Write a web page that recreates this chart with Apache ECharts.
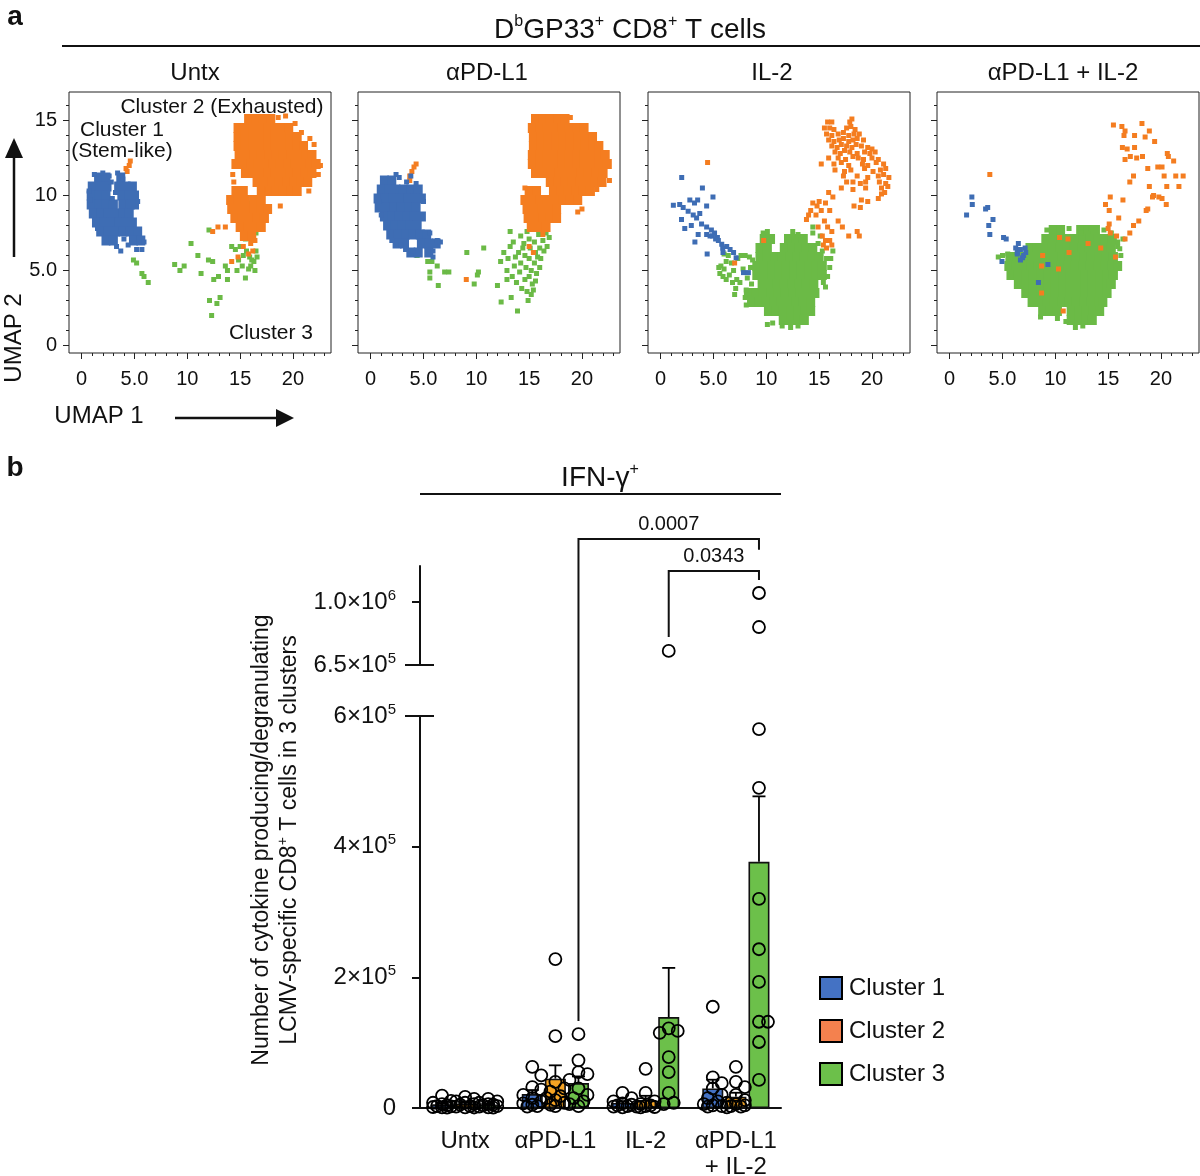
<!DOCTYPE html>
<html>
<head>
<meta charset="UTF-8">
<title>UMAP clusters and IFN-γ+ cells</title>
<script src="https://cdn.jsdelivr.net/npm/echarts@6/dist/echarts.min.js"></script>
<style>
  html, body { margin: 0; padding: 0; background: #fff; }
  #main { width: 1200px; height: 1176px; }
</style>
</head>
<body>
<div id="main"></div>
<script>
// ---------------- panel a : UMAP (UMAP1, UMAP2) ----------------
var panelTitles = ['Untx', 'αPD-L1', 'IL-2', 'αPD-L1 + IL-2'];
var umapXTicks = [0, 5, 10, 15, 20];
var umapXTickText = ['0', '5.0', '10', '15', '20'];
var umapYTicks = [0, 5, 10, 15];
var umapYTickText = ['0', '5.0', '10', '15'];

// dense parts as rows: [UMAP2, [UMAP1, ...]]
var untxBlueCore = [
  [11.2, [1.6, 2.3, 3.7]],
  [10.6, [1.0, 1.7, 2.4, 3.5, 4.2, 4.8]],
  [10.0, [0.9, 1.6, 2.3, 3.8, 4.5, 5.0]],
  [9.4, [0.9, 1.6, 2.3, 3.0, 3.9, 4.6, 5.0]],
  [8.8, [1.1, 1.8, 2.5, 3.2, 3.9, 4.5]],
  [8.2, [1.4, 2.1, 2.8, 3.5, 4.2, 4.8]],
  [7.6, [1.8, 2.5, 3.2, 3.9, 4.6, 5.3]],
  [7.0, [2.3, 3.0, 4.9, 5.6]]
];
var untxBlue = [[3.4,11.5],[3.6,11.0],[2.8,10.9],[3.2,10.2],[2.9,9.8],[3.3,6.6],[3.7,6.3],[4.4,6.7],[5.2,6.4],[5.7,6.4],[5.9,6.9],[0.8,9.7],[1.2,11.4],[5.3,9.6],[0.7,10.3],[2.0,11.5],[2.6,11.3],[3.9,11.1],[4.0,7.1],[1.5,7.8]];
var untxOrangeCore = [
  [15.1, [15.8, 16.5, 17.2, 17.9]],
  [14.5, [14.8, 15.5, 16.2, 16.9, 17.6, 18.3, 19.0, 19.6]],
  [13.9, [14.8, 15.5, 16.2, 16.9, 17.6, 18.3, 19.0, 19.7, 20.4]],
  [13.3, [14.8, 15.5, 16.2, 16.9, 17.6, 18.3, 19.0, 19.7, 20.4, 21.0]],
  [12.7, [14.9, 15.6, 16.3, 17.0, 17.7, 18.4, 19.1, 19.8, 20.5, 21.2, 21.8]],
  [12.1, [14.6, 15.3, 16.0, 16.7, 17.4, 18.1, 18.8, 19.5, 20.2, 20.9, 21.6, 22.2]],
  [11.5, [15.5, 16.2, 16.9, 17.6, 18.3, 19.0, 19.7, 20.4, 21.1, 21.8]],
  [10.9, [16.6, 17.3, 18.0, 18.7, 19.4, 20.1, 20.8, 21.4]],
  [10.3, [14.6, 15.3, 17.0, 17.7, 18.4, 19.1, 19.8, 20.4]],
  [9.7, [14.1, 14.8, 15.5, 16.3, 17.0]],
  [9.1, [14.2, 14.9, 15.6, 16.3, 17.0, 17.6]],
  [8.5, [14.5, 15.2, 15.9, 16.6, 17.3]],
  [7.9, [15.0, 15.7, 16.4, 17.0]],
  [7.3, [15.4, 16.1]]
];
var untxOrange = [[4.3,11.6],[4.5,12.0],[4.2,11.8],[4.6,12.3],[12.4,7.6],[12.9,7.9],[13.6,7.9],[14.2,5.6],[14.8,5.9],[15.3,6.6],[16.0,6.8],[16.4,7.0],[18.8,9.3],[22.4,11.4],[22.6,12.0],[19.3,15.3],[18.6,15.2],[21.5,10.3],[17.6,10.4],[16.2,6.3],[15.8,6.1],[22.0,13.4],[21.6,13.8],[20.8,14.2],[20.2,14.8],[14.4,10.9],[14.3,11.4]];
var untxGreen = [[4.9,5.7],[5.2,5.5],[5.7,4.8],[5.9,4.6],[6.3,4.2],[8.8,5.4],[9.3,5.0],[9.7,5.3],[10.35,6.8],[11.0,6.0],[12.0,5.7],[12.4,5.6],[11.3,4.8],[12.05,7.7],[12.1,3.0],[12.8,2.8],[13.1,3.2],[12.3,2.0],[12.5,4.4],[12.95,4.6],[13.6,5.3],[13.8,5.0],[13.8,4.4],[14.2,6.6],[14.55,6.4],[15.0,6.6],[14.7,5.0],[14.85,5.7],[15.3,6.0],[15.6,6.3],[15.9,5.9],[16.1,5.7],[15.5,4.5],[15.8,5.1],[16.0,5.3],[16.3,5.6],[16.5,6.3],[16.1,7.1],[16.5,7.5],[16.0,9.5],[15.5,7.1],[16.4,5.0],[16.6,5.9],[15.2,5.3]];

var pdBlueCore = [
  [11.0, [1.3, 2.0]],
  [10.4, [1.0, 1.7, 2.4, 3.1, 3.8, 4.5]],
  [9.8, [0.7, 1.4, 2.1, 2.8, 3.5, 4.2, 4.8]],
  [9.2, [0.8, 1.5, 2.2, 2.9, 3.6, 4.3]],
  [8.6, [1.3, 2.0, 2.7, 3.4, 4.1, 4.8]],
  [8.0, [1.6, 2.3, 3.0, 3.7, 4.4]],
  [7.4, [1.9, 2.6, 3.3, 4.0, 4.7, 5.3]],
  [6.8, [2.5, 3.2, 4.8, 5.5, 6.2]],
  [6.2, [3.8, 4.5, 5.5]]
];
var pdBlue = [[5.9,5.9],[6.6,6.9],[4.0,6.3],[3.3,6.4],[1.0,8.7],[0.8,9.6],[2.7,11.2],[5.0,9.6],[5.6,7.5],[6.3,7.0],[2.4,11.4],[3.4,10.9],[4.3,10.8],[2.0,7.0],[2.9,6.7],[5.9,6.3],[3.8,11.3]];
var pdOrangeCore = [
  [15.1, [15.6, 16.3, 17.0, 17.7, 18.4]],
  [14.5, [15.3, 16.0, 16.7, 17.4, 18.1, 18.8, 19.5, 20.2]],
  [13.9, [15.4, 16.1, 16.8, 17.5, 18.2, 18.9, 19.6, 20.3, 21.0]],
  [13.3, [15.4, 16.1, 16.8, 17.5, 18.2, 18.9, 19.6, 20.3, 21.0, 21.6]],
  [12.7, [15.3, 16.0, 16.7, 17.4, 18.1, 18.8, 19.5, 20.2, 20.9, 21.6, 22.2]],
  [12.1, [15.3, 16.0, 16.7, 17.4, 18.1, 18.8, 19.5, 20.2, 20.9, 21.6, 22.4]],
  [11.5, [15.6, 16.4, 17.1, 17.8, 18.5, 19.2, 19.9, 20.6, 21.3, 22.0]],
  [10.9, [17.0, 17.7, 18.4, 19.1, 19.8, 20.5, 21.2, 21.9]],
  [10.3, [15.0, 15.7, 17.3, 18.0, 18.7, 19.4, 20.1, 20.8]],
  [9.7, [14.6, 15.3, 16.0, 16.7, 17.4, 18.2, 18.9, 19.6]],
  [9.1, [14.8, 15.5, 16.2, 16.9, 17.6]],
  [8.5, [14.9, 15.6, 16.3, 17.0, 17.6]],
  [7.9, [15.2, 15.9, 16.6]]
];
var pdOrange = [[3.7,11.3],[3.9,11.6],[4.1,11.9],[4.3,12.1],[3.7,11.0],[14.6,10.5],[15.4,6.2],[15.0,6.6],[9.05,4.4],[20.0,9.1],[19.6,8.9],[22.6,11.0],[16.3,7.4],[21.4,10.4],[18.9,15.2]];
var pdGreen = [[4.4,6.0],[5.4,5.6],[5.8,5.6],[6.3,5.3],[5.6,4.9],[5.6,4.5],[6.4,4.0],[7.0,4.9],[7.4,4.9],[9.1,6.2],[10.1,4.7],[10.2,4.9],[9.8,4.1],[10.7,6.5],[12.0,4.0],[12.35,2.9],[13.3,3.2],[13.9,2.3],[12.3,5.6],[12.6,6.2],[12.9,5.0],[13.2,6.6],[13.5,6.9],[13.0,5.8],[13.6,5.3],[13.4,4.6],[13.8,4.2],[14.0,6.2],[14.2,5.5],[14.1,4.9],[14.3,3.8],[14.5,6.8],[14.6,6.0],[14.7,5.2],[14.6,4.4],[14.8,3.6],[15.0,7.1],[15.1,6.5],[15.0,5.8],[15.2,5.0],[15.0,4.6],[15.3,4.1],[15.2,3.4],[15.5,6.9],[15.6,6.2],[15.5,5.5],[15.7,4.8],[15.6,4.3],[15.9,7.4],[16.0,6.5],[16.1,5.8],[16.0,5.2],[16.3,7.0],[16.4,6.3],[16.6,7.5],[16.9,7.2],[16.7,6.6],[14.2,7.3],[13.2,7.6],[14.8,7.6],[16.3,8.5],[14.9,3.0],[15.4,3.7],[14.4,6.5],[13.7,5.9],[15.8,5.9],[12.9,4.4]];

var il2Blue = [[1.99,11.2],[3.95,10.5],[4.95,9.9],[1.2,9.35],[1.8,9.4],[2.13,9.2],[2.76,9.7],[3.2,9.5],[3.5,9.7],[4.35,9.3],[2.6,8.95],[3.08,8.7],[3.7,8.8],[1.97,8.4],[2.28,7.8],[2.9,8.0],[3.87,8.1],[3.4,8.5],[4.35,7.9],[4.8,7.7],[3.55,7.4],[3.24,6.9],[4.35,7.4],[4.67,7.3],[5.1,7.5],[5.37,7.2],[5.46,7.0],[5.78,6.75],[5.87,6.5],[6.25,6.6],[5.9,6.2],[4.4,6.1],[6.57,6.4],[7.14,5.85],[6.9,6.2],[7.84,4.86],[8.3,4.86],[4.9,7.3],[5.2,7.1]];
var il2Orange = [[15.8,14.9],[16.2,14.9],[17.9,14.9],[18.1,15.1],[15.5,14.5],[16.0,14.5],[16.4,14.4],[17.6,14.5],[18.0,14.6],[18.4,14.4],[15.7,14.1],[16.2,14.0],[16.8,14.1],[17.3,14.2],[17.8,14.0],[18.3,14.1],[18.8,14.1],[15.9,13.7],[16.4,13.6],[16.9,13.7],[17.3,13.8],[17.8,13.6],[18.2,13.7],[18.6,13.8],[19.2,13.7],[16.2,13.3],[16.7,13.2],[17.1,13.4],[17.6,13.3],[18.1,13.2],[18.5,13.4],[19.0,13.3],[19.6,13.2],[20.0,13.1],[16.5,12.9],[17.0,12.8],[17.4,13.0],[17.9,12.9],[18.6,12.8],[19.3,12.9],[19.8,12.8],[20.3,12.9],[15.9,12.5],[16.8,12.5],[17.5,12.4],[18.2,12.6],[18.7,12.5],[19.2,12.4],[20.0,12.5],[20.6,12.4],[15.2,12.1],[16.4,12.1],[17.1,12.2],[17.8,12.0],[19.1,12.1],[19.6,12.0],[20.4,12.2],[21.1,12.1],[16.5,11.7],[17.4,11.6],[18.0,11.7],[19.3,11.8],[20.1,11.6],[20.8,11.7],[21.3,11.8],[17.3,11.3],[18.6,11.3],[19.6,11.2],[20.6,11.3],[21.1,11.4],[21.6,11.2],[17.6,10.9],[18.2,10.9],[18.9,10.8],[19.4,10.9],[20.7,10.9],[21.3,10.8],[17.1,10.5],[18.2,10.4],[19.4,10.5],[20.9,10.5],[21.5,10.6],[20.9,10.1],[21.2,10.2],[19.0,9.7],[19.6,9.6],[20.6,9.8],[18.3,9.3],[18.9,9.2],[14.8,9.3],[15.0,9.6],[15.6,9.5],[14.4,9.5],[14.2,9.0],[15.2,9.0],[16.0,9.0],[14.0,8.7],[14.7,8.7],[15.5,8.3],[16.8,8.3],[15.8,7.9],[17.2,7.9],[14.9,7.9],[16.2,7.6],[18.6,7.6],[15.3,7.3],[17.8,7.3],[18.8,7.3],[15.6,7.0],[16.0,7.0],[15.4,6.7],[16.2,6.7],[15.7,6.5],[13.8,8.4],[16.3,9.9],[15.9,10.2],[4.44,12.2],[9.75,7.0],[7.0,5.5]];
var il2GreenCore = [
  [7.1, [9.8, 10.4, 12.1, 12.8, 13.5]],
  [6.5, [9.4, 10.1, 11.7, 12.4, 13.1, 13.8, 14.4]],
  [5.9, [9.4, 10.1, 10.8, 11.5, 12.2, 12.9, 13.6, 14.3, 15.0]],
  [5.3, [9.1, 9.8, 10.5, 11.2, 11.9, 12.6, 13.3, 14.0, 14.7, 15.3]],
  [4.7, [9.1, 9.8, 10.5, 11.2, 11.9, 12.6, 13.3, 14.0, 14.7, 15.3]],
  [4.1, [9.6, 10.3, 11.0, 11.7, 12.4, 13.1, 13.8, 14.5]],
  [3.5, [8.3, 9.0, 9.7, 10.4, 11.1, 11.8, 12.5, 13.2, 13.9, 14.6]],
  [2.9, [8.6, 9.3, 10.0, 10.7, 11.4, 12.1, 12.8, 13.5, 14.2]],
  [2.3, [10.2, 10.9, 11.6, 12.3, 13.0, 13.7, 14.2]],
  [1.7, [11.6, 12.3, 13.0, 13.6]]
];
var il2Green = [[5.6,4.8],[5.7,5.3],[5.9,4.6],[6.2,4.4],[6.5,4.7],[6.2,5.6],[6.0,5.1],[6.4,6.0],[6.7,5.5],[6.9,5.0],[7.3,5.8],[7.6,6.0],[8.0,6.0],[8.4,5.9],[8.7,5.7],[7.2,4.4],[7.5,4.2],[7.1,3.8],[7.0,3.4],[7.8,5.1],[8.2,4.5],[8.6,4.1],[8.5,5.2],[6.0,6.1],[5.5,5.2],[8.1,3.7],[6.8,4.2],[14.9,6.8],[15.1,7.3],[14.4,7.5],[15.3,6.3],[15.7,5.8],[16.1,5.8],[16.3,6.3],[16.0,5.2],[15.8,4.6],[14.4,7.9],[15.6,7.0],[11.5,1.3],[12.3,1.2],[13.0,1.3],[10.6,1.5],[10.1,1.4],[9.7,7.5],[10.1,7.6],[12.5,7.6],[13.0,7.4],[8.1,2.7],[8.0,3.2],[15.6,3.9],[15.4,4.2]];

var comboGreenCore = [
  [7.7, [9.8, 10.5, 12.4, 13.1, 13.8]],
  [7.1, [9.1, 9.8, 10.5, 11.2, 11.9, 12.6, 13.3, 14.0, 14.7, 15.4]],
  [6.5, [7.6, 8.3, 9.0, 9.7, 10.4, 11.1, 11.8, 12.5, 13.2, 13.9, 14.6, 15.3]],
  [5.9, [5.7, 6.4, 7.1, 7.8, 8.5, 9.2, 9.9, 10.6, 11.3, 12.0, 12.7, 13.4, 14.1, 14.8, 15.5]],
  [5.3, [5.6, 6.3, 7.0, 7.7, 8.4, 9.1, 9.8, 10.5, 11.2, 11.9, 12.6, 13.3, 14.0, 14.7, 15.4, 15.9]],
  [4.7, [5.8, 6.5, 7.2, 7.9, 8.6, 9.3, 10.0, 10.7, 11.4, 12.1, 12.8, 13.5, 14.2, 14.9, 15.5]],
  [4.1, [6.5, 7.2, 7.9, 8.6, 9.3, 10.0, 10.7, 11.4, 12.1, 12.8, 13.5, 14.2, 14.9, 15.3]],
  [3.5, [7.2, 7.9, 8.6, 9.3, 10.0, 10.7, 11.4, 12.1, 12.8, 13.5, 14.2, 14.9]],
  [2.9, [7.8, 8.5, 9.2, 9.9, 10.6, 11.3, 12.0, 12.7, 13.4, 14.1, 14.5]],
  [2.3, [8.8, 9.5, 10.2, 11.5, 12.2, 12.9, 13.6, 14.2]],
  [1.7, [11.5, 12.2, 12.9, 13.5]]
];
var comboGreen = [[4.6,5.9],[5.0,6.0],[5.5,6.1],[12.4,7.5],[13.4,7.8],[15.3,7.5],[15.9,6.6],[16.1,6.45],[16.4,7.1],[16.2,6.0],[15.9,6.9],[11.9,1.2],[12.6,1.3],[11.0,1.6],[10.2,1.8],[8.6,1.9],[9.2,7.7],[11.3,7.8],[14.6,7.7]];
var comboBlue = [[2.1,9.9],[2.14,9.4],[1.6,8.7],[3.4,9.1],[3.6,9.2],[4.1,8.4],[3.7,8.0],[3.8,7.4],[5.1,7.2],[5.35,7.1],[4.95,5.6],[6.25,6.5],[6.4,6.2],[6.7,6.4],[7.14,6.5],[6.9,5.85],[6.4,6.1],[6.7,5.7],[7.2,6.2],[9.3,5.4],[8.4,4.2],[6.5,6.8],[7.0,6.0]];
var comboOrange = [[3.8,11.4],[15.5,14.7],[16.3,14.6],[16.6,14.3],[16.5,14.0],[17.5,14.0],[18.2,14.8],[18.5,13.9],[18.9,14.3],[19.4,13.6],[16.35,13.2],[16.8,13.1],[17.5,13.2],[16.6,12.4],[17.1,12.6],[17.7,12.5],[18.25,12.6],[20.6,12.8],[20.7,12.6],[21.2,12.3],[18.75,11.8],[19.7,11.9],[20.1,11.9],[20.3,11.3],[21.4,11.3],[22.1,11.3],[21.7,10.6],[20.55,10.6],[18.9,10.6],[17.4,11.3],[17.05,10.9],[19.3,10.0],[19.8,9.9],[20.1,9.8],[19.2,9.9],[18.75,9.1],[18.6,9.0],[20.5,9.4],[16.4,9.7],[15.2,9.9],[14.75,9.4],[15.1,9.0],[16.0,8.5],[15.1,8.1],[15.0,7.8],[15.2,7.5],[17.4,8.0],[17.9,8.3],[17.05,7.5],[15.8,7.3],[16.6,7.1],[14.3,6.5],[15.7,5.9],[10.4,7.2],[11.2,7.1],[13.1,6.8],[11.3,6.2],[8.8,6.0],[8.7,5.3],[10.3,5.1],[8.7,3.5],[10.75,2.3]];

// ---------------- panel b : IFN-γ+ cells per mouse ----------------
var groupLabels = ['Untx', 'αPD-L1', 'IL-2', 'αPD-L1\n+ IL-2'];
var clusterNames = ['Cluster 1', 'Cluster 2', 'Cluster 3'];
var cluster1Counts = [
  [19000, 11000, 8000, 6000, 4500, 3000, 2500, 1500, 1000, 500],
  [63000, 50000, 32000, 28000, 20000, 15000, 10000, 7000, 5000, 3000, 2000],
  [23000, 15000, 10000, 7000, 5000, 4000, 3000, 2000, 1000],
  [155000, 47000, 38000, 30000, 20000, 15000, 10000, 6000, 4000, 3000, 2000]
];
var cluster2Counts = [
  [17000, 14000, 10000, 8000, 6000, 5000, 3000, 2000, 1000, 800],
  [228000, 110000, 40000, 30000, 25000, 18000, 15000, 12000, 8000, 5000, 3000],
  [60000, 23000, 10000, 6000, 4000, 3000, 2000, 1500, 1000],
  [63000, 40000, 32000, 20000, 12000, 8000, 6000, 4000, 3000, 2000, 1000]
];
var cluster3Counts = [
  [14000, 10000, 8000, 6000, 5000, 4000, 3000, 2000, 1000, 600],
  [113000, 73000, 55000, 52000, 43000, 30000, 20000, 15000, 10000, 6000, 3000],
  [728000, 122000, 118000, 115000, 78000, 55000, 23000, 8000, 6000],
  [1050000, 861000, 580000, 490000, 320000, 243000, 193000, 132000, 132000, 101000, 43000]
];
var lowTicks = [0, 200000, 400000, 600000];
var lowTickText = ['0', '2×10^5', '4×10^5', '6×10^5'];
var highTicks = [650000, 1000000];
var highTickText = ['6.5×10^5', '1.0×10^6'];
// significance brackets: [group, cluster] ends, bracket level and leg ends (cells)
var sigTests = [
  { label: '0.0007', from: [1, 2], to: [3, 2], level: 1350000, fromEnd: 133000, toEnd: 1290000 },
  { label: '0.0343', from: [2, 2], to: [3, 2], level: 1172000, fromEnd: 806000, toEnd: 1122000 }
];

var FONT = "'Liberation Sans', Arial, sans-serif";
var INK = '#111';
var umapColors = { blue: '#3e6db4', orange: '#f47d20', green: '#6bba46' };
var barColors = ['#4472c4', '#f5a323', '#6cc04a'];
var legendColors = ['#4472c4', '#f4814e', '#6cc04a'];

function rowsToPoints(rows) {
  var out = [];
  rows.forEach(function (r) { r[1].forEach(function (x) { out.push([x, r[0]]); }); });
  return out;
}
function supText(s, base, sup) {
  var p = s.split('^');
  return p.length > 1 ? '{' + base + '|' + p[0] + '}{' + sup + '|' + p[1] + '}' : '{' + base + '|' + s + '}';
}

var chart = echarts.init(document.getElementById('main'));

var umapPanels = [
  { green: untxGreen, orangeCore: untxOrangeCore, orange: untxOrange, blueCore: untxBlueCore, blue: untxBlue },
  { green: pdGreen, orangeCore: pdOrangeCore, orange: pdOrange, blueCore: pdBlueCore, blue: pdBlue },
  { greenCore: il2GreenCore, green: il2Green, orange: il2Orange, blue: il2Blue },
  { greenCore: comboGreenCore, green: comboGreen, orange: comboOrange, blue: comboBlue }
];
var PANEL_LEFT = [69, 358, 648, 937];
var umapMinorX = [], umapMinorY = [];
for (var t = 0; t <= 23; t++) umapMinorX.push(t);
for (var t2 = 0; t2 <= 16; t2++) umapMinorY.push(t2);

var grids = [], xAxes = [], yAxes = [], series = [];

PANEL_LEFT.forEach(function (left, i) {
  grids.push({ left: left, top: 92, width: 262, height: 261, show: true, outerBoundsMode: 'none',
    borderColor: '#222', borderWidth: 1, backgroundColor: 'transparent' });
  var common = { type: 'value', gridIndex: i, splitLine: { show: false },
    axisLine: { show: false, onZero: false } };
  xAxes.push(Object.assign({}, common, { min: -1.2, max: 23.6, position: 'bottom',
    axisTick: { show: true, customValues: umapXTicks, length: 6, lineStyle: { color: '#222' } },
    axisLabel: { show: true, customValues: umapXTicks, margin: 16, fontSize: 20, color: INK, fontFamily: FONT,
      formatter: function (v) { return umapXTickText[umapXTicks.indexOf(v)] || ''; } } }));
  xAxes.push(Object.assign({}, common, { min: -1.2, max: 23.6, position: 'bottom',
    axisTick: { show: true, customValues: umapMinorX, length: 3, lineStyle: { color: '#222' } },
    axisLabel: { show: false } }));
  yAxes.push(Object.assign({}, common, { min: -0.5, max: 16.9, position: 'left',
    axisTick: { show: true, customValues: umapYTicks, length: 6, lineStyle: { color: '#222' } },
    axisLabel: { show: i === 0, customValues: umapYTicks, margin: 12, fontSize: 20, color: INK, fontFamily: FONT,
      formatter: function (v) { return umapYTickText[umapYTicks.indexOf(v)] || ''; } } }));
  yAxes.push(Object.assign({}, common, { min: -0.5, max: 16.9, position: 'left',
    axisTick: { show: true, customValues: umapMinorY, length: 3, lineStyle: { color: '#222' } },
    axisLabel: { show: false } }));

  var p = umapPanels[i];
  var layers = [
    ['greenCore', 'green', true], ['green', 'green', false],
    ['orangeCore', 'orange', true], ['orange', 'orange', false],
    ['blueCore', 'blue', true], ['blue', 'blue', false]
  ];
  layers.forEach(function (l) {
    var src = p[l[0]];
    if (!src) return;
    series.push({
      type: 'scatter', xAxisIndex: 2 * i, yAxisIndex: 2 * i, silent: true,
      symbol: 'rect', symbolSize: l[2] ? [9, 10] : 5,
      itemStyle: { color: umapColors[l[1]], opacity: 1 },
      data: l[2] ? rowsToPoints(src) : src
    });
  });
});

// ---- bar chart grids (broken y axis) ----
var BAR_LEFT = 420, BAR_W = 361;
var BAND = BAR_W / groupLabels.length;
var BAR_WIDTH = 21;
var SHIFT = (BAR_WIDTH * 1.1) / BAND;      // cluster offset in category units
var LOW_PX = 392 / 600000;

grids.push({ left: BAR_LEFT, top: 716, width: BAR_W, height: 392, outerBoundsMode: 'none' });   // 4 lower
grids.push({ left: BAR_LEFT, top: 566, width: BAR_W, height: 99, outerBoundsMode: 'none' });    // 5 upper

var tickRich = {
  b: { fontSize: 24, fontFamily: FONT, color: INK, lineHeight: 28 },
  s: { fontSize: 15, fontFamily: FONT, color: INK, lineHeight: 16, verticalAlign: 'top' }
};

xAxes.push({ type: 'category', gridIndex: 4, data: groupLabels, position: 'bottom',
  axisLine: { onZero: false, lineStyle: { color: INK, width: 2 } },
  axisTick: { alignWithLabel: true, interval: 0, length: 7, lineStyle: { color: INK, width: 2 } },
  axisLabel: { interval: 0, fontSize: 24, lineHeight: 26, margin: 20, color: INK, fontFamily: FONT },
  splitLine: { show: false } });                                              // 8
xAxes.push({ type: 'value', gridIndex: 4, min: -0.5, max: 3.5, show: false }); // 9
xAxes.push({ type: 'value', gridIndex: 5, min: -0.5, max: 3.5, show: false }); // 10

yAxes.push({ type: 'value', gridIndex: 4, min: 0, max: 600000, position: 'left',
  axisLine: { show: true, onZero: false, lineStyle: { color: INK, width: 2 } },
  axisTick: { show: true, customValues: [0, 200000, 400000], length: 8, lineStyle: { color: INK, width: 2 } },
  axisLabel: { customValues: lowTicks, margin: 24, rich: tickRich,
    formatter: function (v) { var k = lowTicks.indexOf(v); return k < 0 ? '' : supText(lowTickText[k], 'b', 's'); } },
  splitLine: { show: false } });                                              // 8
yAxes.push({ type: 'value', gridIndex: 5, min: 650000, max: 1200000, position: 'left',
  axisLine: { show: true, onZero: false, lineStyle: { color: INK, width: 2 } },
  axisTick: { show: true, customValues: [1000000], length: 8, lineStyle: { color: INK, width: 2 } },
  axisLabel: { customValues: highTicks, margin: 24, rich: tickRich,
    formatter: function (v) { var k = highTicks.indexOf(v); return k < 0 ? '' : supText(highTickText[k], 'b', 's'); } },
  splitLine: { show: false } });                                              // 9

var clusterCounts = [cluster1Counts, cluster2Counts, cluster3Counts];
function mean(a) { return a.reduce(function (s, v) { return s + v; }, 0) / a.length; }
function sem(a) {
  var m = mean(a);
  var ss = a.reduce(function (s, v) { return s + (v - m) * (v - m); }, 0);
  return Math.sqrt(ss / (a.length - 1)) / Math.sqrt(a.length);
}
// spread circles sideways where they would overlap (pixel units)
function swarm(vals) {
  var placed = [], res = new Array(vals.length);
  var order = vals.map(function (v, i) { return i; }).sort(function (a, b) { return vals[b] - vals[a]; });
  var cands = [0, 5, -5, 9, -9];
  order.forEach(function (i) {
    var y = vals[i] * LOW_PX, best = 0, bestD = -1;
    for (var k = 0; k < cands.length; k++) {
      var d = Infinity;
      placed.forEach(function (q) { var dd = Math.hypot(q[0] - cands[k], q[1] - y); if (dd < d) d = dd; });
      if (d >= 10) { best = cands[k]; break; }
      if (d > bestD) { bestD = d; best = cands[k]; }
    }
    placed.push([best, y]);
    res[i] = best;
  });
  return res;
}

var errData = [], highPoints = [];
clusterCounts.forEach(function (groups, c) {
  var means = groups.map(mean);
  series.push({ name: clusterNames[c], type: 'bar', xAxisIndex: 8, yAxisIndex: 8,
    barWidth: BAR_WIDTH, barGap: '10%', z: 2, silent: true,
    itemStyle: { color: barColors[c], borderColor: INK, borderWidth: 1.6 },
    data: means });
  var lowPts = [];
  groups.forEach(function (vals, g) {
    var xc = g + (c - 1) * SHIFT;
    errData.push([xc, means[g], means[g] + sem(vals)]);
    var dx = swarm(vals);
    vals.forEach(function (v, k) {
      var pt = [xc + dx[k] / BAND, v];
      if (v >= 650000) highPoints.push(pt); else lowPts.push(pt);
    });
  });
  series.push({ type: 'scatter', xAxisIndex: 9, yAxisIndex: 8, z: 4, silent: true,
    symbol: 'circle', symbolSize: 12,
    itemStyle: { color: 'rgba(255,255,255,0)', borderColor: '#000', borderWidth: 1.8, opacity: 1 },
    data: lowPts });
});
series.push({ type: 'scatter', xAxisIndex: 10, yAxisIndex: 9, z: 4, silent: true,
  symbol: 'circle', symbolSize: 12,
  itemStyle: { color: 'rgba(255,255,255,0)', borderColor: '#000', borderWidth: 1.8, opacity: 1 },
  data: highPoints });
series.push({ type: 'custom', xAxisIndex: 9, yAxisIndex: 8, z: 3, silent: true,
  renderItem: function (params, api) {
    var lo = api.coord([api.value(0), api.value(1)]);
    var hi = api.coord([api.value(0), api.value(2)]);
    var st = { stroke: '#000', lineWidth: 1.8 };
    return { type: 'group', children: [
      { type: 'line', shape: { x1: lo[0], y1: lo[1], x2: hi[0], y2: hi[1] }, style: st },
      { type: 'line', shape: { x1: hi[0] - 6.5, y1: hi[1], x2: hi[0] + 6.5, y2: hi[1] }, style: st }
    ] };
  },
  data: errData });

chart.setOption({
  animation: false,
  textStyle: { fontFamily: FONT },
  grid: grids,
  xAxis: xAxes,
  yAxis: yAxes,
  legend: {
    orient: 'vertical', left: 819, top: 976, itemWidth: 22, itemHeight: 22, itemGap: 19,
    icon: 'rect', selectedMode: false, padding: 0,
    textStyle: { fontSize: 24, color: INK, fontFamily: FONT, padding: [0, 0, 0, 2] },
    data: clusterNames.map(function (n, c) {
      return { name: n, itemStyle: { color: legendColors[c], borderColor: '#000', borderWidth: 2 } };
    })
  },
  series: series
});

// ---- annotations (text, arrows, brackets) ----
function txt(x, y, s, size, opts) {
  return Object.assign({ type: 'text', x: x, y: y, z: 100, silent: true,
    style: { text: s, fontSize: size, fontFamily: FONT, fill: INK, align: 'center', verticalAlign: 'middle' } }, opts || {});
}
function line(x1, y1, x2, y2, w) {
  return { type: 'line', z: 100, silent: true, shape: { x1: x1, y1: y1, x2: x2, y2: y2 },
    style: { stroke: INK, lineWidth: w || 2 } };
}
var richHead = {
  a: { fontSize: 28, fontFamily: FONT, fill: INK, lineHeight: 32 },
  s: { fontSize: 16, fontFamily: FONT, fill: INK, lineHeight: 17, verticalAlign: 'top' }
};
var richName = {
  a: { fontSize: 23, fontFamily: FONT, fill: INK, lineHeight: 28 },
  s: { fontSize: 14, fontFamily: FONT, fill: INK, lineHeight: 14, verticalAlign: 'top' }
};
function rich(x, y, s, r, rot) {
  return { type: 'text', x: x, y: y, z: 100, silent: true, rotation: rot || 0,
    style: { text: s, rich: r, align: 'center', verticalAlign: 'middle' } };
}

var titleX = [195, 487, 772, 1063];
var g = [
  txt(15, 17, 'a', 28, { style: { text: 'a', fontSize: 28, fontWeight: 'bold', fontFamily: FONT, fill: INK, align: 'center', verticalAlign: 'middle' } }),
  txt(15, 468, 'b', 28, { style: { text: 'b', fontSize: 28, fontWeight: 'bold', fontFamily: FONT, fill: INK, align: 'center', verticalAlign: 'middle' } }),
  rich(630, 30, '{a|D}{s|b}{a|GP33}{s|+}{a| CD8}{s|+}{a| T cells}', richHead),
  line(62, 46, 1200, 46, 2),
  txt(222, 107, 'Cluster 2 (Exhausted)', 21),
  txt(122, 130, 'Cluster 1', 21),
  txt(122, 151, '(Stem-like)', 21),
  txt(271, 333, 'Cluster 3', 21),
  txt(14, 338, 'UMAP 2', 24, { rotation: Math.PI / 2 }),
  line(14, 257, 14, 155, 2.5),
  { type: 'polygon', z: 100, silent: true, shape: { points: [[5, 158], [23, 158], [14, 138]] }, style: { fill: INK } },
  txt(99, 416, 'UMAP 1', 24),
  line(175, 418, 279, 418, 2.5),
  { type: 'polygon', z: 100, silent: true, shape: { points: [[276, 409], [276, 427], [294, 418]] }, style: { fill: INK } },
  rich(600, 478, '{a|IFN-γ}{s|+}', richHead),
  line(420, 494, 781, 494, 2),
  rich(262, 840, '{a|Number of cytokine producing/degranulating}', richName, Math.PI / 2),
  rich(290, 840, '{a|LCMV-specific CD8}{s|+}{a| T cells in 3 clusters}', richName, Math.PI / 2)
];
panelTitles.forEach(function (s, i) { g.push(txt(titleX[i], 73, s, 24)); });

function toPx(xv, v) {
  if (v >= 650000) return chart.convertToPixel({ xAxisIndex: 10, yAxisIndex: 9 }, [xv, v]);
  return chart.convertToPixel({ xAxisIndex: 9, yAxisIndex: 8 }, [xv, v]);
}
// axis break marks
var b1 = toPx(-0.5, 600000), b2 = toPx(-0.5, 650000);
g.push(line(b1[0] - 15, b1[1], b1[0] + 14, b1[1], 2));
g.push(line(b2[0] - 15, b2[1], b2[0] + 14, b2[1], 2));

sigTests.forEach(function (s) {
  var xa = s.from[0] + (s.from[1] - 1) * SHIFT;
  var xb = s.to[0] + (s.to[1] - 1) * SHIFT;
  var top = toPx(xa, s.level), la = toPx(xa, s.fromEnd), lb = toPx(xb, s.toEnd), tb = toPx(xb, s.level);
  g.push({ type: 'polyline', z: 100, silent: true,
    shape: { points: [[la[0], la[1]], [top[0], top[1]], [tb[0], tb[1]], [lb[0], lb[1]]] },
    style: { stroke: INK, lineWidth: 2, fill: null } });
  g.push(txt((top[0] + tb[0]) / 2, top[1] - 15, s.label, 20));
});

chart.setOption({ graphic: g });
</script>
</body>
</html>
